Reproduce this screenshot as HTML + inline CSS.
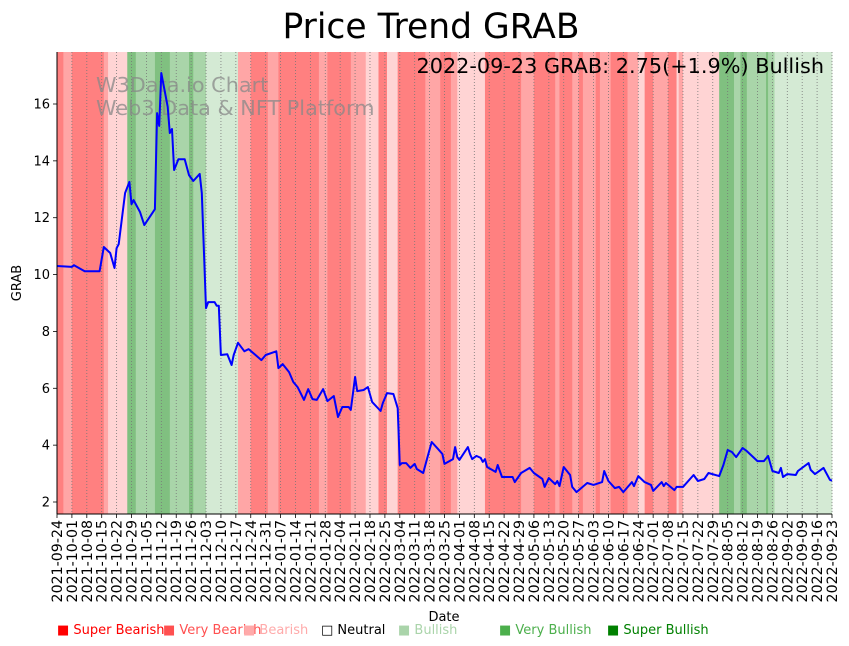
<!DOCTYPE html>
<html><head><meta charset="utf-8">
<style>
body{margin:0;background:#fff;}
svg{display:block;font-family:"Liberation Sans","DejaVu Sans",sans-serif;}
</style></head>
<body>
<svg id="chart" width="849" height="646" viewBox="0 0 849 646" xmlns="http://www.w3.org/2000/svg">
<text x="431" y="38" font-size="34.5" text-anchor="middle" fill="#000" font-family="DejaVu Sans, sans-serif">Price Trend GRAB</text>
<g id="bands"></g>
<g id="grid"></g>
<text x="96" y="92" font-size="20.8" fill="#888" fill-opacity="0.75" font-family="DejaVu Sans, sans-serif">W3Data.io Chart</text>
<text x="96" y="115" font-size="20.8" fill="#888" fill-opacity="0.75" font-family="DejaVu Sans, sans-serif">Web3 Data &amp; NFT Platform</text>
<text x="824" y="73" font-size="20.8" text-anchor="end" fill="#000" font-family="DejaVu Sans, sans-serif">2022-09-23 GRAB: 2.75(+1.9%) Bullish</text>
<g id="line"></g>
<g id="axes"></g>
<text transform="translate(21,283) rotate(-90)" font-size="13" text-anchor="middle" font-family="DejaVu Sans, sans-serif">GRAB</text>
<text x="444" y="621" font-size="13" text-anchor="middle" font-family="DejaVu Sans, sans-serif">Date</text>
<g id="legend" font-size="13" font-family="DejaVu Sans, sans-serif"></g>
</svg>
<script>
const NS="http://www.w3.org/2000/svg";
// ---- data ----
const startDate="2021-09-24";
const totalDays=364;
const yTicks=[2,4,6,8,10,12,14,16];
const levelNames=["Super Bearish","Very Bearish","Bearish","Neutral","Bullish","Very Bullish","Super Bullish"];
const bandStarts=[0,3,7,10,22,24,33,37,46,53,62,64,70,85,91,99,104,123,127,138,145,151,155,160,173,180,185,188,201,218,224,234,236,242,245,247,253,255,260,268,273,276,280,287,291,292,294,311,318,321,324,333,334,337];
const bandLevels=[0,1,0,0,1,2,6,5,6,5,6,5,4,1,0,1,0,1,0,1,2,0,2,0,1,0,1,2,0,1,0,1,0,1,0,1,0,1,0,1,2,0,1,0,2,1,2,6,5,6,5,6,5,4];
const priceDays=[0,7,8,13,20,22,25,27,28,29,32,34,35,36,39,41,46,47,48,49,52,53,54,55,57,60,62,64,67,68,70,71,74,75,76,77,80,82,83,85,88,90,96,98,103,104,106,109,111,113,116,118,120,122,125,127,130,132,134,137,138,140,141,144,146,148,152,153,155,158,160,161,162,164,166,168,169,172,174,176,179,181,182,186,187,188,189,193,194,195,197,199,200,201,202,206,207,209,214,215,218,222,224,228,229,231,234,235,236,238,241,242,244,249,252,256,257,259,262,264,266,270,271,273,276,279,280,284,285,286,290,291,294,299,301,304,306,311,313,315,317,319,322,324,329,332,334,336,339,340,341,343,347,348,353,354,356,360,363,364];
const priceValues=[10.30,10.27,10.33,10.12,10.12,10.97,10.76,10.23,10.93,11.07,12.87,13.26,12.48,12.62,12.2,11.74,12.3,15.68,15.23,17.09,15.9,14.98,15.12,13.68,14.06,14.06,13.5,13.29,13.54,12.87,8.82,9.03,9.03,8.9,8.9,7.17,7.2,6.82,7.17,7.6,7.3,7.38,6.99,7.17,7.3,6.71,6.85,6.57,6.22,6.04,5.59,5.97,5.62,5.59,5.97,5.55,5.73,4.99,5.34,5.34,5.24,6.4,5.9,5.94,6.04,5.52,5.2,5.48,5.83,5.8,5.3,3.3,3.37,3.37,3.2,3.34,3.16,3.02,3.58,4.11,3.86,3.69,3.34,3.51,3.93,3.58,3.48,3.93,3.69,3.51,3.62,3.55,3.41,3.51,3.23,3.06,3.3,2.88,2.88,2.7,3.02,3.2,3.02,2.81,2.53,2.84,2.63,2.74,2.56,3.23,2.95,2.53,2.35,2.67,2.6,2.7,3.09,2.74,2.49,2.53,2.35,2.7,2.56,2.91,2.7,2.6,2.39,2.7,2.56,2.67,2.42,2.53,2.53,2.95,2.74,2.81,3.02,2.91,3.3,3.83,3.76,3.58,3.9,3.79,3.44,3.44,3.62,3.09,3.02,3.2,2.88,2.98,2.95,3.09,3.37,3.13,2.98,3.2,2.78,2.75];
// ---- styles ----
const bandColors=["#ff8080","#ffa6a6","#ffd4d4","#ffffff","#d4ead4","#a9d5a9","#80c080"];
const legendColors=["#ff0000","#ff5050","#ffaaaa","#000000","#aad4aa","#4caf4c","#008000"];
const legendX=[57,163,243,321,398,499,607];
const X0=57,X1=832,Y0=52,Y1=514;
function xs(d){return X0+(X1-X0)*d/totalDays;}
function ys(v){return 502-(v-2)*(398/14);}
function mk(tag,attrs,parent){const e=document.createElementNS(NS,tag);for(const k in attrs)e.setAttribute(k,attrs[k]);parent.appendChild(e);return e;}
const gB=document.getElementById("bands");
for(let i=0;i<bandStarts.length;i++){
  const s=bandStarts[i],e=(i+1<bandStarts.length?bandStarts[i+1]:totalDays);
  const r=mk("rect",{x:xs(s),y:Y0,width:xs(e)-xs(s)+0.3,height:Y1-Y0,fill:bandColors[bandLevels[i]]},gB);
  
  
}
const tickLabels=[];
for(let d=0;d<=totalDays;d+=7){const dt=new Date(startDate+"T00:00:00Z");dt.setUTCDate(dt.getUTCDate()+d);tickLabels.push(dt.toISOString().slice(0,10));}
const gG=document.getElementById("grid"),gA=document.getElementById("axes");
tickLabels.forEach((lab,i)=>{
  const x=xs(i*7);
  const g=mk("line",{x1:x,x2:x,y1:Y0,y2:Y1,stroke:"#777","stroke-width":0.8,"stroke-dasharray":"1,2"},gG);
  
  
  mk("line",{x1:x,x2:x,y1:Y1,y2:Y1+4,stroke:"#000","stroke-width":0.8},gA);
  const t=mk("text",{transform:`translate(${x+5},${Y1+6}) rotate(-90)`,"font-size":14.2,"text-anchor":"end","font-family":"DejaVu Sans, sans-serif"},gA);
  t.textContent=lab;
  
  
});
yTicks.forEach(v=>{
  const y=ys(v);
  mk("line",{x1:X0-4,x2:X0,y1:y,y2:y,stroke:"#000","stroke-width":0.8},gA);
  const t=mk("text",{x:X0-7,y:y+4.5,"font-size":13,"text-anchor":"end","font-family":"DejaVu Sans, sans-serif"},gA);
  t.textContent=v;
  
  
});
const la=mk("line",{x1:X0,x2:X0,y1:Y0,y2:Y1,stroke:"#000","stroke-width":1},gA);


const lb=mk("line",{x1:X0,x2:X1,y1:Y1,y2:Y1,stroke:"#000","stroke-width":1},gA);


const pts=priceDays.map((d,i)=>xs(d).toFixed(1)+","+ys(priceValues[i]).toFixed(1)).join(" ");
const pl=mk("polyline",{points:pts,fill:"none",stroke:"#0000ff","stroke-width":2,"stroke-linejoin":"round"},document.getElementById("line"));


const gL=document.getElementById("legend");
levelNames.forEach((n,i)=>{
  const t=mk("text",{x:legendX[i],y:634,fill:legendColors[i]},gL);
  t.textContent=(i===3?"\u25A1 ":"\u25A0 ")+n;
  
  
});
</script>
</body></html>
